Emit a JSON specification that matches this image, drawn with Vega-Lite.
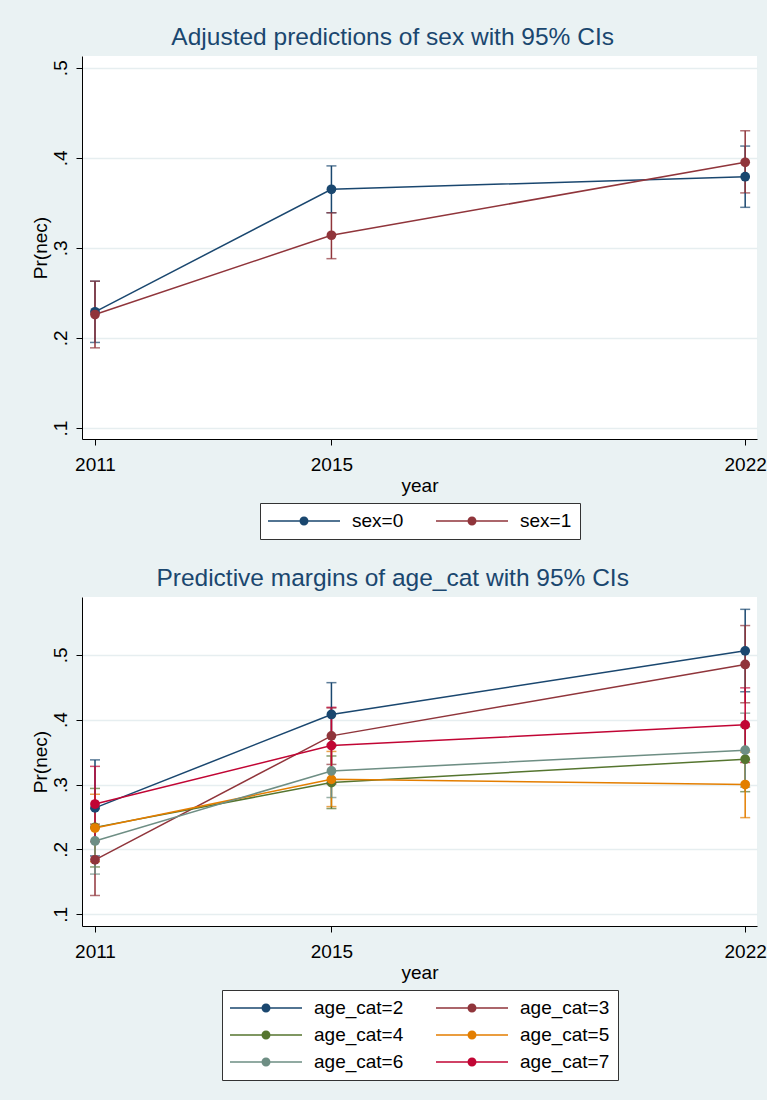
{
  "$schema": "https://vega.github.io/schema/vega-lite/v6.json",
  "background": "#eaf2f3",
  "padding": {"left": 30, "top": 24, "right": 0, "bottom": 19},
  "spacing": 25,
  "config": {
    "font": "Liberation Sans",
    "view": {"fill": "white", "stroke": null},
    "axis": {
      "domainColor": "black", "tickColor": "black", "labelColor": "black", "titleColor": "black",
      "labelFontSize": 19, "titleFontSize": 19, "titleFontWeight": "normal",
      "tickSize": 6, "domainWidth": 1, "tickWidth": 1,
      "gridColor": "#e6eef0", "gridWidth": 1.5
    },
    "title": {"fontSize": 24.5, "fontWeight": "normal", "color": "#1a476f", "frame": "bounds", "anchor": "middle", "offset": 6, "dx": -6},
    "legend": {
      "orient": "bottom", "direction": "horizontal", "columns": 2,
      "labelFontSize": 19, "labelColor": "black", "strokeColor": "#333333", "fillColor": "white",
      "padding": 8, "symbolType": "M-3.6,-0.075H3.6V0.075H-3.6Z M-0.45,0A0.45,0.45,0,1,1,0.45,0A0.45,0.45,0,1,1,-0.45,0Z",
      "symbolSize": 400, "symbolStrokeWidth": 0, "symbolOffset": 26, "columnPadding": 32, "rowPadding": 7,
      "labelOffset": 38, "offset": 8,
      "layout": {"bottom": {"anchor": "middle"}}
    }
  },
  "resolve": {
    "scale": {"color": "independent", "fill": "independent"},
    "legend": {"color": "independent", "fill": "independent"}
  },
  "vconcat": [
    {
      "title": {"text": "Adjusted predictions of sex with 95% CIs"},
      "width": 675, "height": 383,
      "data": {"values": [
        {"year": 2011, "series": "sex=0", "p": 0.229, "lo": 0.195, "hi": 0.263},
        {"year": 2011, "series": "sex=1", "p": 0.226, "lo": 0.189, "hi": 0.263},
        {"year": 2015, "series": "sex=0", "p": 0.365, "lo": 0.339, "hi": 0.391},
        {"year": 2015, "series": "sex=1", "p": 0.314, "lo": 0.288, "hi": 0.339},
        {"year": 2022, "series": "sex=0", "p": 0.379, "lo": 0.345, "hi": 0.413},
        {"year": 2022, "series": "sex=1", "p": 0.395, "lo": 0.361, "hi": 0.430}
      ]},
      "encoding": {
        "x": {"field": "year", "type": "quantitative", "title": "year",
          "scale": {"domain": [2010.78, 2022.2], "nice": false, "zero": false},
          "axis": {"values": [2011, 2015, 2022], "format": "d", "grid": false, "labelPadding": 10, "titlePadding": 2}}
      },
      "layer": [
        {
          "mark": {"type": "errorbar", "ticks": {"size": 10, "thickness": 1.5}, "thickness": 1.5},
          "encoding": {
            "y": {"field": "lo", "type": "quantitative", "title": "Pr(nec)",
              "scale": {"domain": [0.0878, 0.513], "nice": false, "zero": false},
              "axis": {"values": [0.1, 0.2, 0.3, 0.4, 0.5], "labelAngle": -90, "labelExpr": "substring(format(datum.value, '.1f'), 1)", "grid": true, "labelPadding": 6, "titlePadding": 1}},
            "y2": {"field": "hi"},
            "color": {"field": "series", "type": "nominal", "legend": null,
              "scale": {"domain": ["sex=0", "sex=1"], "range": ["#1a476f", "#90353b"]}}
          }
        },
        {
          "mark": {"type": "line", "strokeWidth": 1.5},
          "encoding": {
            "y": {"field": "p", "type": "quantitative", "title": "Pr(nec)"},
            "color": {"field": "series", "type": "nominal", "legend": null,
              "scale": {"domain": ["sex=0", "sex=1"], "range": ["#1a476f", "#90353b"]}}
          }
        },
        {
          "mark": {"type": "point", "filled": true, "size": 95, "opacity": 1},
          "encoding": {
            "y": {"field": "p", "type": "quantitative", "title": "Pr(nec)"},
            "fill": {"field": "series", "type": "nominal", "title": null,
              "scale": {"range": ["#1a476f", "#90353b"]}}
          }
        }
      ]
    },
    {
      "title": {"text": "Predictive margins of age_cat with 95% CIs"},
      "width": 675, "height": 329,
      "data": {"values": [
        {"year": 2011, "series": "age_cat=2", "p": 0.264, "lo": 0.190, "hi": 0.338},
        {"year": 2011, "series": "age_cat=3", "p": 0.184, "lo": 0.129, "hi": 0.239},
        {"year": 2011, "series": "age_cat=4", "p": 0.234, "lo": 0.173, "hi": 0.294},
        {"year": 2011, "series": "age_cat=5", "p": 0.233, "lo": 0.181, "hi": 0.285},
        {"year": 2011, "series": "age_cat=6", "p": 0.213, "lo": 0.162, "hi": 0.263},
        {"year": 2011, "series": "age_cat=7", "p": 0.270, "lo": 0.212, "hi": 0.328},
        {"year": 2015, "series": "age_cat=2", "p": 0.408, "lo": 0.359, "hi": 0.457},
        {"year": 2015, "series": "age_cat=3", "p": 0.375, "lo": 0.331, "hi": 0.418},
        {"year": 2015, "series": "age_cat=4", "p": 0.303, "lo": 0.263, "hi": 0.344},
        {"year": 2015, "series": "age_cat=5", "p": 0.308, "lo": 0.266, "hi": 0.351},
        {"year": 2015, "series": "age_cat=6", "p": 0.321, "lo": 0.280, "hi": 0.362},
        {"year": 2015, "series": "age_cat=7", "p": 0.360, "lo": 0.301, "hi": 0.419},
        {"year": 2022, "series": "age_cat=2", "p": 0.506, "lo": 0.443, "hi": 0.570},
        {"year": 2022, "series": "age_cat=3", "p": 0.485, "lo": 0.426, "hi": 0.545},
        {"year": 2022, "series": "age_cat=4", "p": 0.339, "lo": 0.289, "hi": 0.389},
        {"year": 2022, "series": "age_cat=5", "p": 0.300, "lo": 0.249, "hi": 0.350},
        {"year": 2022, "series": "age_cat=6", "p": 0.353, "lo": 0.296, "hi": 0.410},
        {"year": 2022, "series": "age_cat=7", "p": 0.392, "lo": 0.334, "hi": 0.449}
      ]},
      "encoding": {
        "x": {"field": "year", "type": "quantitative", "title": "year",
          "scale": {"domain": [2010.78, 2022.2], "nice": false, "zero": false},
          "axis": {"values": [2011, 2015, 2022], "format": "d", "grid": false, "labelPadding": 10, "titlePadding": 2}}
      },
      "layer": [
        {
          "mark": {"type": "errorbar", "ticks": {"size": 10, "thickness": 1.5}, "thickness": 1.5},
          "encoding": {
            "y": {"field": "lo", "type": "quantitative", "title": "Pr(nec)",
              "scale": {"domain": [0.082, 0.589], "nice": false, "zero": false},
              "axis": {"values": [0.1, 0.2, 0.3, 0.4, 0.5], "labelAngle": -90, "labelExpr": "substring(format(datum.value, '.1f'), 1)", "grid": true, "labelPadding": 6, "titlePadding": 1}},
            "y2": {"field": "hi"},
            "color": {"field": "series", "type": "nominal", "legend": null,
              "scale": {"domain": ["age_cat=2", "age_cat=3", "age_cat=4", "age_cat=5", "age_cat=6", "age_cat=7"], "range": ["#1a476f", "#90353b", "#55752f", "#e37e00", "#6e8e84", "#c10534"]}}
          }
        },
        {
          "mark": {"type": "line", "strokeWidth": 1.5},
          "encoding": {
            "y": {"field": "p", "type": "quantitative", "title": "Pr(nec)"},
            "color": {"field": "series", "type": "nominal", "legend": null,
              "scale": {"domain": ["age_cat=2", "age_cat=3", "age_cat=4", "age_cat=5", "age_cat=6", "age_cat=7"], "range": ["#1a476f", "#90353b", "#55752f", "#e37e00", "#6e8e84", "#c10534"]}}
          }
        },
        {
          "mark": {"type": "point", "filled": true, "size": 95, "opacity": 1},
          "encoding": {
            "y": {"field": "p", "type": "quantitative", "title": "Pr(nec)"},
            "fill": {"field": "series", "type": "nominal", "title": null,
              "scale": {"range": ["#1a476f", "#90353b", "#55752f", "#e37e00", "#6e8e84", "#c10534"]}}
          }
        }
      ]
    }
  ]
}
